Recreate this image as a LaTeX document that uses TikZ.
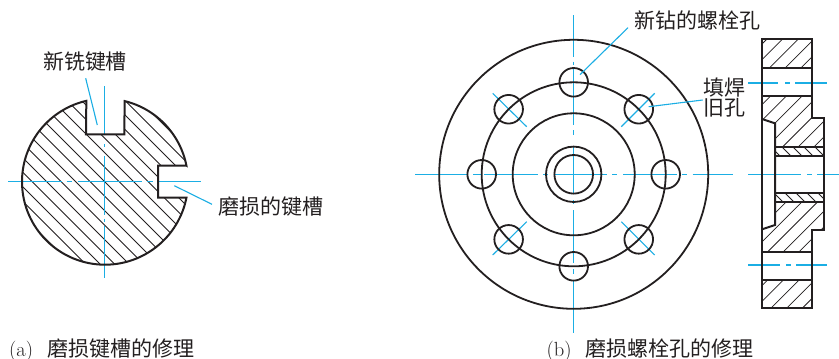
\documentclass[tikz,border=0pt]{standalone}
\usepackage{fontspec}
\newfontfamily\cjk{Noto Sans CJK SC}
\definecolor{ink}{HTML}{231F20}
\definecolor{cl}{HTML}{1BAEE4}
\tikzset{
  outline/.style={draw=ink,line width=2pt,line join=miter},
  ringline/.style={draw=ink,line width=1.8pt},
  hatchline/.style={draw=ink,line width=0.75pt},
  centre/.style={draw=cl,line width=1.4pt},
  leader/.style={draw=cl,line width=1.1pt},
  lbl/.style={font=\fontsize{21}{24}\selectfont\cjk,inner sep=0pt,text=ink},
  captext/.style={font=\fontsize{20.5}{24}\selectfont,inner sep=0pt,text=ink,anchor=west}
}
\begin{document}
\begin{tikzpicture}[x=1pt,y=-1pt]
\useasboundingbox (0,0) rectangle (839,359);
\fill[white] (0,0) rectangle (839,359);
% ---- left: shaft section
\def\shaft{(186.4,165.7) -- plot[domain=-11.1:-76.3,samples=40] ({105+83*cos(\x)},{181.7+83*sin(\x)}) -- (124.3,134.3) -- (86,134.3) -- plot[domain=-103:-348.9,samples=120] ({105+83*cos(\x)},{181.7+83*sin(\x)}) -- (158,197.7) -- (158,165.7) -- cycle}
\begin{scope}
  \clip \shaft;
  \foreach \c in {-251,-236.5,...,120} \draw[hatchline] (\c,0) -- (\c+400,400);
\end{scope}
\draw[centre] (8.3,181.7) -- (62.3,181.7) (66.7,181.7) -- (72.3,181.7) (77.7,181.7) -- (141.7,181.7) (147.3,181.7) -- (152.7,181.7) (157.3,181.7) -- (201,181.7);
\draw[centre] (104.7,86) -- (104.7,134.3) (104.7,144) -- (104.7,147) (104.7,156) -- (104.7,215) (104.7,218.5) -- (104.7,222) (104.7,226) -- (104.7,278);
\draw[outline] \shaft;
\node[lbl] (newkey) at (85,62) {新铣键槽};
\node[lbl] (oldkey) at (270.5,207) {磨损的键槽};
\coordinate (newkeyEnd) at (97.3,125);
\coordinate (newkeyStart) at (85.7,78.3);
\coordinate (oldkeyEnd) at (174.3,185.7);
\coordinate (oldkeyStart) at (212,204.3);
\draw[leader] (newkeyStart) -- (newkeyEnd);
\draw[leader] (oldkeyStart) -- (oldkeyEnd);
\node[captext] (capa) at (9,350) {(a)\hspace{14pt}{\fontsize{21}{24}\selectfont\cjk 磨损键槽的修理}};
% ---- right: flange front view
\draw[centre] (415,174.3) -- (468,174.3) (473,174.3) -- (481,174.3) (484,174.3) -- (537.7,174.3) (543,174.3) -- (548,174.3) (554,174.3) -- (606.7,174.3) (612.3,174.3) -- (617.3,174.3) (623,174.3) -- (677,174.3) (681.7,174.3) -- (687.3,174.3) (692.7,174.3) -- (732.7,174.3);
\draw[centre] (573.7,15) -- (573.7,56.7) (573.7,61.7) -- (573.7,65) (573.7,69) -- (573.7,125) (573.7,130) -- (573.7,135) (573.7,146.7) -- (573.7,193) (573.7,200) -- (573.7,204) (573.7,210) -- (573.7,263.3) (573.7,269) -- (573.7,274) (573.7,280) -- (573.7,333.3);
\draw[centre,line width=1.1pt] (492.7,93.3) -- (526.7,126.7) (621.3,126.7) -- (654.7,93.3) (526.7,221.7) -- (492.7,255) (621.3,221.7) -- (654.7,255);
\foreach \r in {134.5,92,61,27.7,19.3} \draw[ringline] (573.7,174.3) circle[radius=\r pt];
\foreach \a in {0,45,...,315} \draw[ringline] ({573.7+92*cos(\a)},{174.3+92*sin(\a)}) circle[radius=14.3pt];
\node[lbl] (newhole) at (697.5,20) {新钻的螺栓孔};
\node[lbl] (fill1) at (724.5,87.3) {填焊};
\node[lbl] (fill2) at (724.5,107.3) {旧孔};
\coordinate (newholeStart) at (628,27.7);
\coordinate (newholeEnd) at (580,74.7);
\coordinate (fillStart) at (702.7,100);
\coordinate (fillEnd) at (648.7,106.7);
\draw[leader] (newholeStart) -- (newholeEnd);
\draw[leader] (fillStart) -- (fillEnd);
\node[captext] (capb) at (546.5,350) {(b)\hspace{14pt}{\fontsize{21}{24}\selectfont\cjk 磨损螺栓孔的修理}};
% ---- right: section view
\begin{scope}
  \clip (762,39.3) rectangle (812.3,68.3);
  \foreach \c in {806,821.7,...,890} \draw[hatchline] (\c,0) -- (\c-400,400);
\end{scope}
\begin{scope}
  \clip (762,95.7) -- (812.3,95.7) -- (812.3,117.7) -- (823.6,117.7) -- (823.6,146.7) -- (775,146.7) -- (775,123.3) -- (762,119) -- cycle;
  \foreach \c in {851,866.7,...,980} \draw[hatchline] (\c,0) -- (\c-400,400);
\end{scope}
\begin{scope}
  \clip (775,146.7) rectangle (823.6,155.7);
  \foreach \c in {613,624,...,680} \draw[hatchline] (\c,0) -- (\c+400,400);
\end{scope}
\begin{scope}
  \clip (775,193.3) rectangle (823.6,201.7);
  \foreach \c in {570,581,...,640} \draw[hatchline] (\c,0) -- (\c+400,400);
\end{scope}
\begin{scope}
  \clip (775,201.7) -- (823.6,201.7) -- (823.6,230) -- (812.3,230) -- (812.3,252.3) -- (762,252.3) -- (762,229.3) -- (775,225) -- cycle;
  \foreach \c in {941,956.7,...,1070} \draw[hatchline] (\c,0) -- (\c-400,400);
\end{scope}
\begin{scope}
  \clip (762,280) rectangle (812.3,308.3);
  \foreach \c in {1032,1047.7,...,1125} \draw[hatchline] (\c,0) -- (\c-400,400);
\end{scope}
\draw[centre] (748,83) -- (778,83) (785,83) -- (790,83) (795,83) -- (827,83);
\draw[centre] (748,174.3) -- (801,174.3) (807,174.3) -- (812,174.3) (817,174.3) -- (839,174.3);
\draw[centre] (748,265) -- (780,265) (786,265) -- (791,265) (796,265) -- (827,265);
\draw[outline] (762,39.3) -- (812.3,39.3) -- (812.3,117.7) -- (823.6,117.7) -- (823.6,230) -- (812.3,230) -- (812.3,308.3) -- (762,308.3) -- cycle;
\draw[outline] (762,68.3) -- (812.3,68.3) (762,95.7) -- (812.3,95.7) (762,252.3) -- (812.3,252.3) (762,280) -- (812.3,280);
\draw[outline] (762,119) -- (775,123.3) -- (775,225) -- (762,229.3);
\draw[outline] (775,146.7) -- (823.6,146.7) (775,155.7) -- (823.6,155.7) (775,193.3) -- (823.6,193.3) (775,201.7) -- (823.6,201.7);
\end{tikzpicture}
\end{document}
